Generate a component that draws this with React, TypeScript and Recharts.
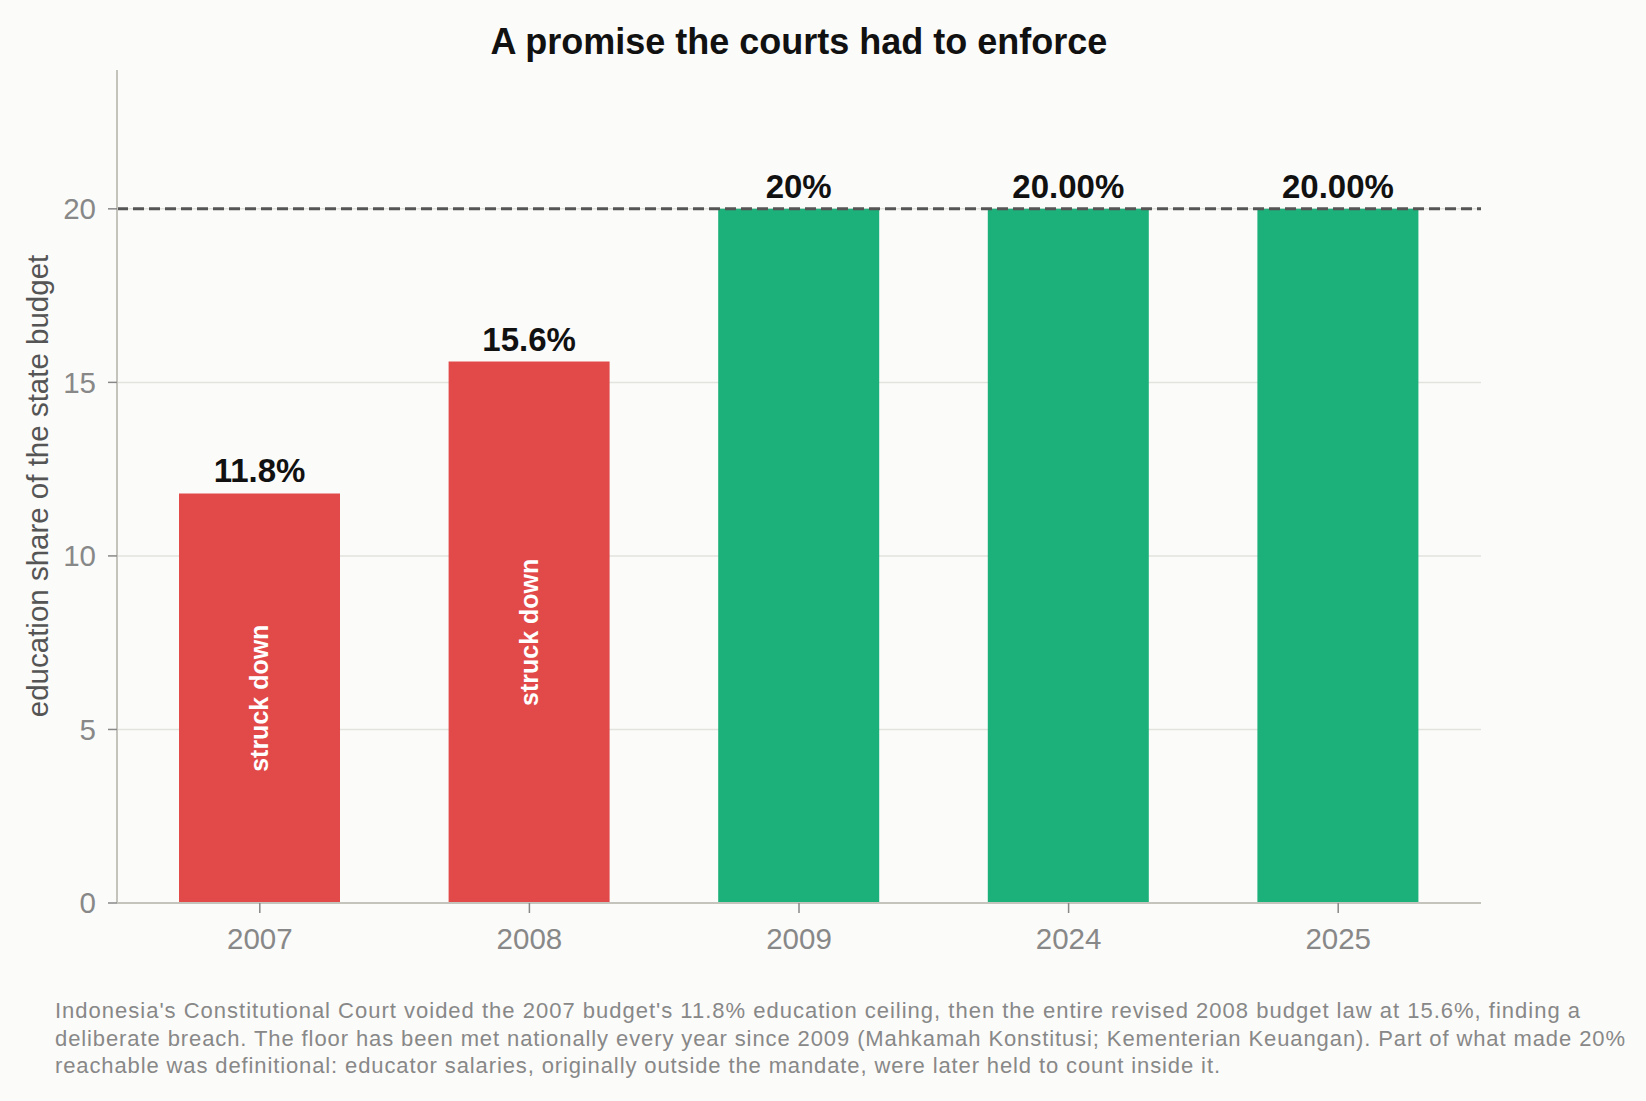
import { Bar, BarChart, CartesianGrid, Cell, LabelList, ReferenceLine, XAxis, YAxis } from 'recharts'

const years = ['2007', '2008', '2009', '2024', '2025']
const shares = [11.8, 15.6, 20, 20, 20]
const shareLabels = ['11.8%', '15.6%', '20%', '20.00%', '20.00%']
const outcomes = ['struck', 'struck', 'met', 'met', 'met']
const notes = ['struck down', 'struck down', '', '', '']
const yTicks = [0, 5, 10, 15, 20]
const gridValues = [5, 10, 15, 20]
const floor = 20

const footnote = [
  "Indonesia's Constitutional Court voided the 2007 budget's 11.8% education ceiling, then the entire revised 2008 budget law at 15.6%, finding a",
  'deliberate breach. The floor has been met nationally every year since 2009 (Mahkamah Konstitusi; Kementerian Keuangan). Part of what made 20%',
  'reachable was definitional: educator salaries, originally outside the mandate, were later held to count inside it.',
]
// measured widths of each footnote line in the reference
const footnoteWidths = [1525, 1570, 1165]

const colors: Record<string, string> = { struck: '#e24a4a', met: '#1cb17a' }

const data = years.map((year, i) => ({
  year,
  share: shares[i],
  label: shareLabels[i],
  outcome: outcomes[i],
  note: notes[i],
}))

const font = '"Liberation Sans", Arial, Helvetica, sans-serif'

function NoteLabel(props: any) {
  const vb = props.viewBox || props
  const { x, y, width, height } = vb
  if (!props.value) return null
  const cx = x + width / 2
  const cy = y + height / 2
  return (
    <text
      x={cx}
      y={cy}
      transform={`rotate(-90 ${cx} ${cy})`}
      textAnchor="middle"
      dominantBaseline="central"
      fill="#ffffff"
      fontSize={25}
      fontWeight="bold"
      fontFamily={font}
    >
      {props.value}
    </text>
  )
}

export default function App() {
  return (
    <div
      style={{
        position: 'fixed',
        left: 0,
        top: 0,
        width: 1646,
        height: 1101,
        background: '#fbfbf9',
        fontFamily: font,
      }}
    >
      <BarChart
        width={1646}
        height={1101}
        data={data}
        margin={{ top: 70, right: 165, left: 57, bottom: 138 }}
      >
        <CartesianGrid
          vertical={false}
          horizontalValues={gridValues}
          stroke="#e2e2de"
          strokeWidth={1.5}
        />
        <XAxis
          dataKey="year"
          height={60}
          padding={{ left: 8, right: 8 }}
          axisLine={{ stroke: '#c4c4bc', strokeWidth: 2 }}
          tickLine={{ stroke: '#888', strokeWidth: 1.5 }}
          tickSize={10}
          tickMargin={15}
          tick={{ fill: '#888', fontSize: 29.5 }}
        />
        <YAxis
          width={60}
          domain={[0, 24]}
          ticks={yTicks}
          axisLine={{ stroke: '#c4c4bc', strokeWidth: 2 }}
          tickLine={{ stroke: '#888', strokeWidth: 1.5 }}
          tickSize={9}
          tickMargin={12}
          tick={{ fill: '#888', fontSize: 29.5 }}
        />
        <Bar dataKey="share" barSize={161} isAnimationActive={false}>
          {data.map((d) => (
            <Cell key={d.year} fill={colors[d.outcome]} />
          ))}
          <LabelList
            dataKey="label"
            position="top"
            offset={11}
            fill="#111"
            fontSize={33}
            fontWeight="bold"
          />
          <LabelList dataKey="note" content={NoteLabel} />
        </Bar>
        <ReferenceLine y={floor} stroke="#555" strokeWidth={3} strokeDasharray="11 5" />
      </BarChart>
      <svg
        width={1646}
        height={1101}
        style={{ position: 'absolute', left: 0, top: 0, pointerEvents: 'none' }}
      >
        <text x={799} y={54} textAnchor="middle" fontSize={36} fontWeight="bold" fill="#111">
          A promise the courts had to enforce
        </text>
        <text
          transform="translate(48 486) rotate(-90)"
          textAnchor="middle"
          fontSize={29.5}
          fill="#555"
        >
          education share of the state budget
        </text>
        {footnote.map((line, i) => (
          <text
            key={i}
            x={55}
            y={1018 + i * 27.5}
            fontSize={22}
            fill="#888"
            textLength={footnoteWidths[i]}
            lengthAdjust="spacing"
          >
            {line}
          </text>
        ))}
      </svg>
    </div>
  )
}
